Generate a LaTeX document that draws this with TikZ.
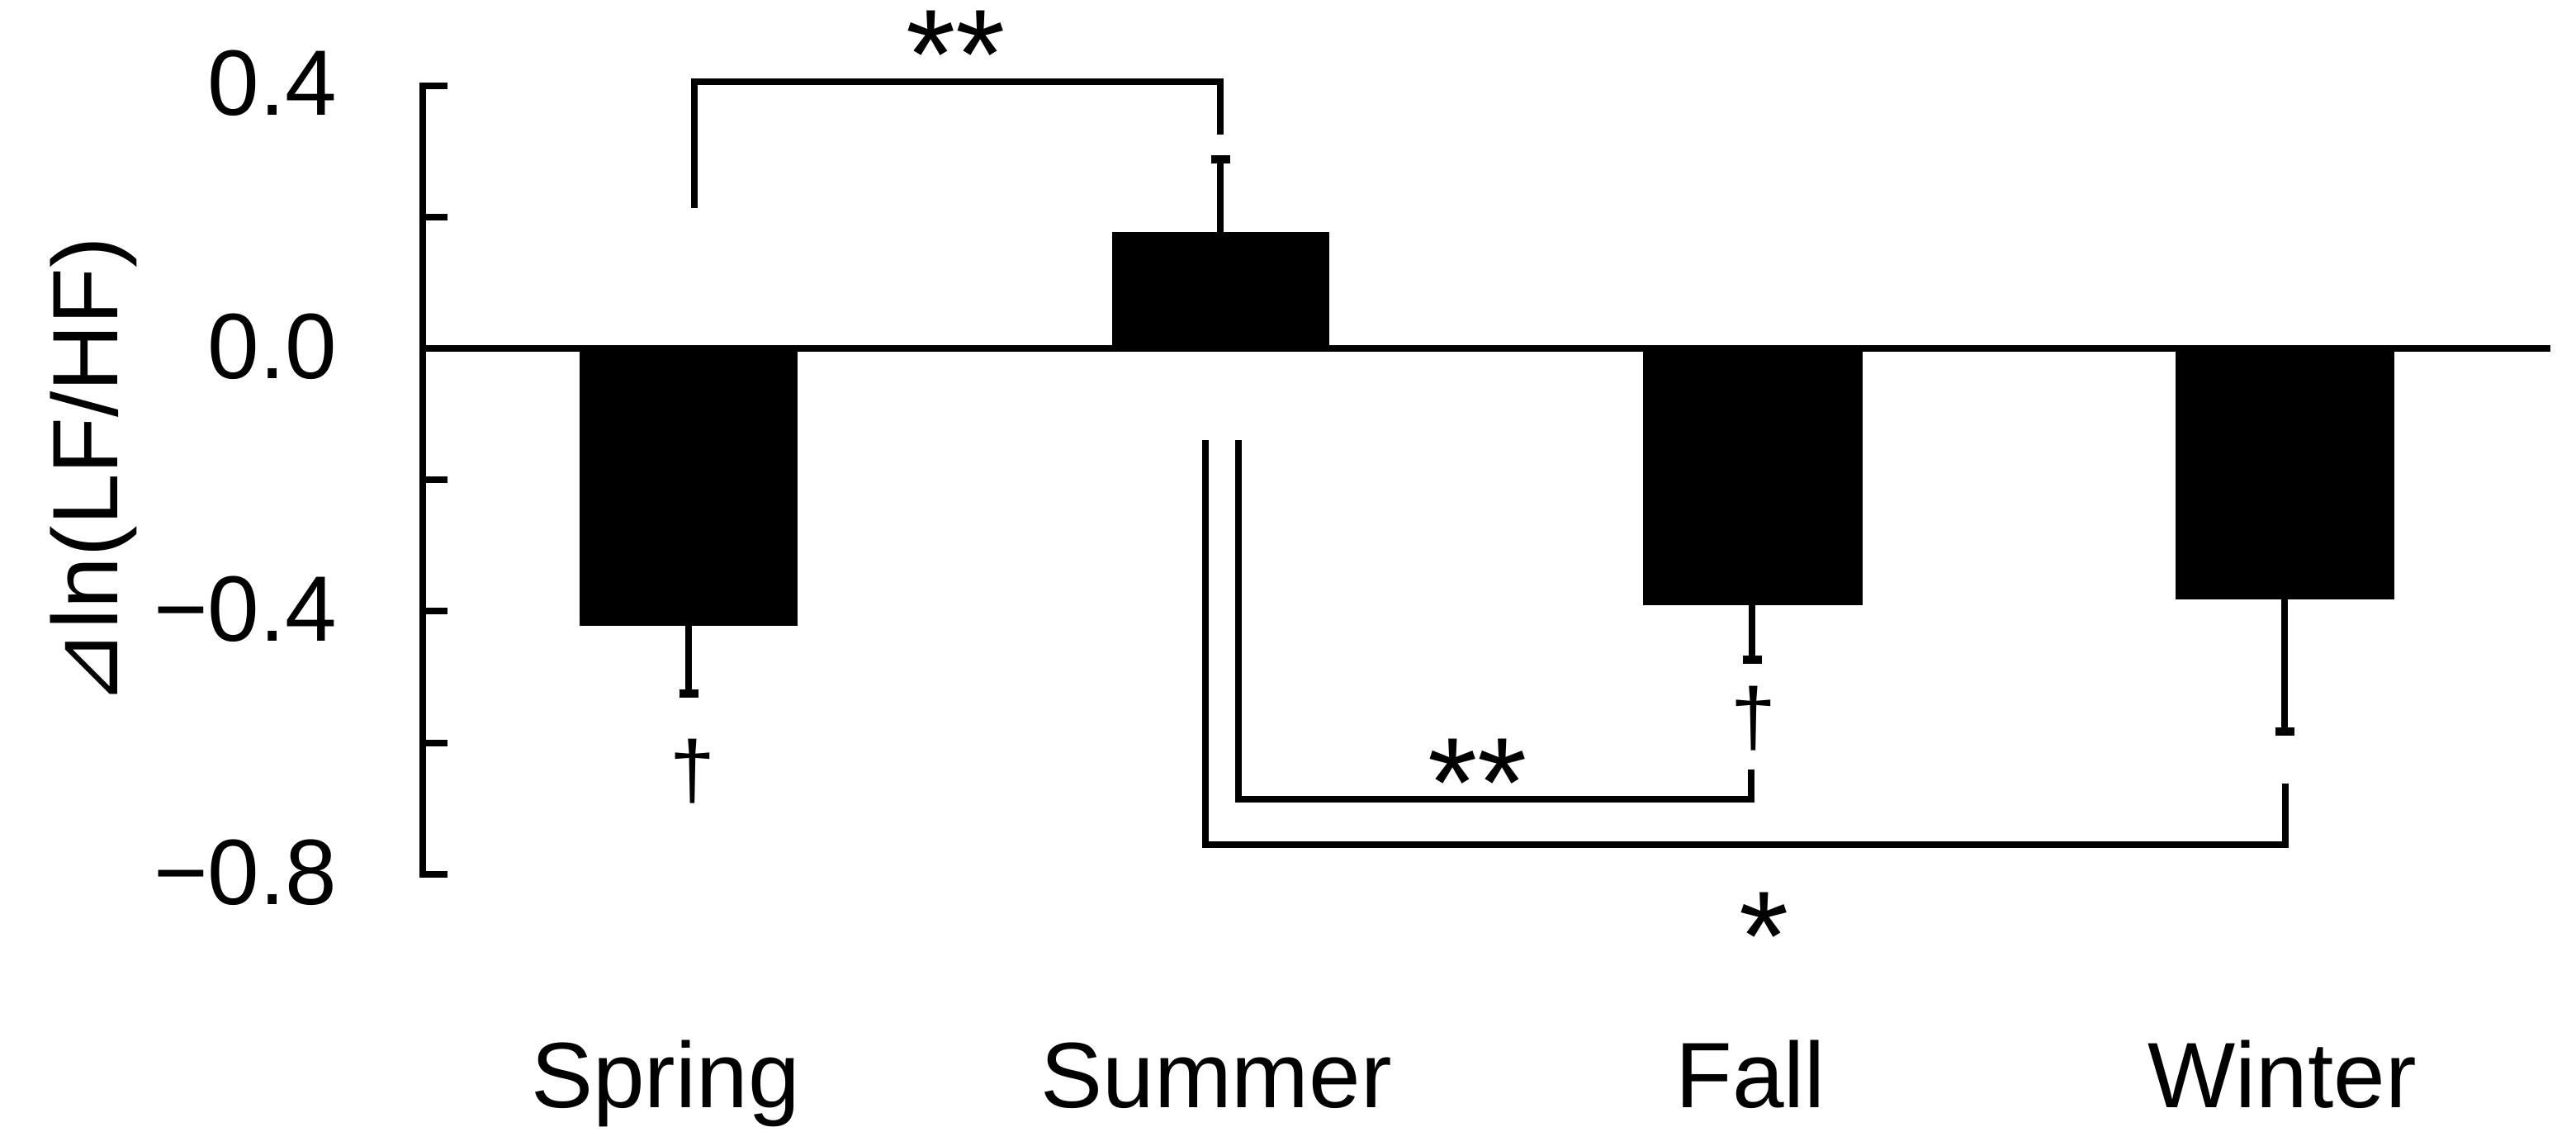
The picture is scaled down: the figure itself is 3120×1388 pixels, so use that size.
\documentclass[tikz,border=0pt]{standalone}
\usepackage{fontspec}
\setmainfont{Liberation Sans}
\newfontfamily\dejavu{DejaVu Sans}
\begin{document}
\begin{tikzpicture}[x=0.01cm,y=-0.01cm]
\tikzset{
  lbl/.style={font=\fontsize{32}{38}\selectfont, inner sep=0pt},
  star/.style={font=\fontsize{44}{50}\selectfont, inner sep=0pt, anchor=north},
  dag/.style={font=\fontsize{28}{32}\selectfont, inner sep=0pt},
  bar/.style={fill=black},
  ln/.style={line width=2.3pt, line join=miter},
  errcap/.style={line width=2.6pt},
}
\useasboundingbox (0,0) rectangle (3120,1388);
% axis
\draw[ln] (542,104) -- (512,104) -- (512,1059) -- (542,1059);
\foreach \t in {263,581,740,900}{\draw[ln] (512,\t) -- (542,\t);}
% bars
\fill[bar] (702,422) rectangle (966,758);
\fill[bar] (1347,281) rectangle (1610,422);
\fill[bar] (1990,422) rectangle (2256,733);
\fill[bar] (2635,422) rectangle (2900,726);
\draw[ln] (512,422) -- (3089,422);
% error bars
\draw[ln] (834,758) -- (834,840);
\draw[errcap] (822.5,840) -- (845.5,840);
\draw[ln] (1478,281) -- (1478,193);
\draw[errcap] (1466.5,193) -- (1489.5,193);
\draw[ln] (2122,733) -- (2122,799);
\draw[errcap] (2110.5,799) -- (2133.5,799);
\draw[ln] (2767,726) -- (2767,886);
\draw[errcap] (2755.5,886) -- (2778.5,886);
% tick labels
\node[lbl, anchor=base east] (t04) at (409,140) {0.4};
\node[lbl, anchor=base east] (t00) at (409,458) {0.0};
\node[lbl, anchor=base east] (tm04) at (409,776) {−0.4};
\node[lbl, anchor=base east] (tm08) at (409,1095) {−0.8};
% y label
\node[lbl, rotate=90, anchor=base west] (ylab) at (142,857) {{\dejavu ⊿}ln(LF/HF)};
% categories
\node[lbl, anchor=base] (spring) at (806,1341) {Spring};
\node[lbl, anchor=base] (summer) at (1473,1341) {Summer};
\node[lbl, anchor=base] (fall) at (2120,1341) {Fall};
\node[lbl, anchor=base] (winter) at (2764,1341) {Winter};
% daggers
\node[dag] (d1) at (839,934) {†};
\node[dag] (d2) at (2124,870) {†};
% brackets
\draw[ln] (841,252) -- (841,99) -- (1478,99) -- (1478,163);
\draw[ln] (1500,533) -- (1500,968) -- (2121,968) -- (2121,932);
\draw[ln] (1460,533) -- (1460,1023) -- (2768,1023) -- (2768,949);
% stars
\node[star] (s1) at (1158,12) {**};
\node[star] (s2) at (1790,894) {**};
\node[star] (s3) at (2137,1080) {*};
\end{tikzpicture}
\end{document}
